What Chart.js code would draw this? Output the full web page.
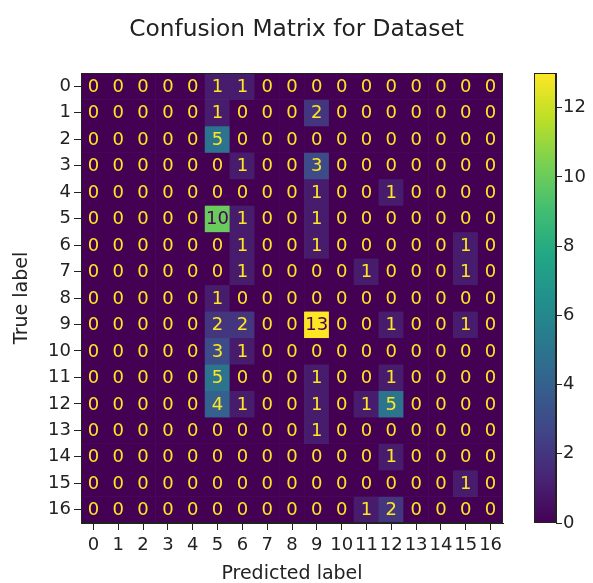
<!DOCTYPE html>
<html>
<head>
<meta charset="utf-8">
<script src="https://cdn.jsdelivr.net/npm/chart.js@4"></script>
<style>
  body { margin: 0; background: #fff; }
  #wrap { position: relative; width: 593px; height: 583px; overflow: hidden; }
  #title { position: absolute; left: 0; width: 593px; top: 16px; text-align: center;
           font: 23.3px "DejaVu Sans", sans-serif; color: #222; line-height: 24px; }
  canvas { position: absolute; top: 0; }
</style>
</head>
<body>
<div id="wrap">
  <canvas id="cm" width="520" height="591" style="left:0"></canvas>
  <canvas id="cbar" width="73" height="591" style="left:520px"></canvas>
  <div id="title">Confusion Matrix for Dataset</div>
</div>
<script>
const predLabels = ['0','1','2','3','4','5','6','7','8','9','10','11','12','13','14','15','16'];
const trueLabels = ['0','1','2','3','4','5','6','7','8','9','10','11','12','13','14','15','16'];

// rows = true label, columns = predicted label
const counts = [
    [0,0,0,0,0,1,1,0,0,0,0,0,0,0,0,0,0],
    [0,0,0,0,0,1,0,0,0,2,0,0,0,0,0,0,0],
    [0,0,0,0,0,5,0,0,0,0,0,0,0,0,0,0,0],
    [0,0,0,0,0,0,1,0,0,3,0,0,0,0,0,0,0],
    [0,0,0,0,0,0,0,0,0,1,0,0,1,0,0,0,0],
    [0,0,0,0,0,10,1,0,0,1,0,0,0,0,0,0,0],
    [0,0,0,0,0,0,1,0,0,1,0,0,0,0,0,1,0],
    [0,0,0,0,0,0,1,0,0,0,0,1,0,0,0,1,0],
    [0,0,0,0,0,1,0,0,0,0,0,0,0,0,0,0,0],
    [0,0,0,0,0,2,2,0,0,13,0,0,1,0,0,1,0],
    [0,0,0,0,0,3,1,0,0,0,0,0,0,0,0,0,0],
    [0,0,0,0,0,5,0,0,0,1,0,0,1,0,0,0,0],
    [0,0,0,0,0,4,1,0,0,1,0,1,5,0,0,0,0],
    [0,0,0,0,0,0,0,0,0,1,0,0,0,0,0,0,0],
    [0,0,0,0,0,0,0,0,0,0,0,0,1,0,0,0,0],
    [0,0,0,0,0,0,0,0,0,0,0,0,0,0,0,1,0],
    [0,0,0,0,0,0,0,0,0,0,0,1,2,0,0,0,0]
];

const cbarMax = 13;
const cbarTicks = [0, 2, 4, 6, 8, 10, 12];

const viridisStops = ['#440154','#482475','#414487','#355f8d','#2a788e','#21918c','#22a884','#44bf70','#7ad151','#bddf26','#fde725'];

function hexRgb(h) {
    return [parseInt(h.slice(1,3),16), parseInt(h.slice(3,5),16), parseInt(h.slice(5,7),16)];
}

function viridis(t) {
    t = Math.min(1, Math.max(0, t));
    const p = t * (viridisStops.length - 1);
    const i = Math.min(Math.floor(p), viridisStops.length - 2);
    const f = p - i;
    const a = hexRgb(viridisStops[i]), b = hexRgb(viridisStops[i + 1]);
    const c = a.map((v, k) => Math.round(v + (b[k] - v) * f));
    return `rgb(${c[0]},${c[1]},${c[2]})`;
}

const FONT = '"DejaVu Sans", sans-serif';
const tickFont = { family: FONT, size: 18 };
const labelFont = { family: FONT, size: 19 };

// frame around the plot area (top + right spines too)
const framePlugin = {
    id: 'frame',
    afterDraw(chart) {
        const { ctx, chartArea: a } = chart;
        ctx.save();
        ctx.strokeStyle = '#222';
        ctx.lineWidth = 1;
        ctx.strokeRect(a.left + 0.5, a.top + 0.5, a.right - a.left - 1, a.bottom - a.top - 1);
        ctx.restore();
    }
};

const annotatePlugin = {
    id: 'annotate',
    afterDatasetsDraw(chart) {
        const { ctx, scales } = chart;
        const thresh = cbarMax / 2;
        ctx.save();
        ctx.font = `18px ${FONT}`;
        ctx.textAlign = 'center';
        ctx.textBaseline = 'middle';
        counts.forEach((row, i) => {
            row.forEach((v, j) => {
                ctx.fillStyle = v > thresh ? viridisStops[0] : viridisStops[10];
                ctx.fillText(String(v), scales.x.getPixelForValue(j), scales.y.getPixelForValue(i + 0.5) + 1);
            });
        });
        ctx.restore();
    }
};

const datasets = counts.map((row, i) => ({
    label: trueLabels[i],
    data: row.map(() => [i, i + 1]),
    backgroundColor: row.map(v => viridis(v / cbarMax)),
    borderWidth: 0,
    barPercentage: 1,
    categoryPercentage: 1,
    grouped: false
}));

new Chart(document.getElementById('cm'), {
    type: 'bar',
    data: { labels: predLabels, datasets: datasets },
    options: {
        responsive: false,
        animation: false,
        layout: { padding: { top: 73, right: 17, left: 11, bottom: 0 } },
        plugins: { legend: { display: false }, tooltip: { enabled: false } },
        scales: {
            x: {
                offset: true,
                grid: { drawOnChartArea: false, offset: false, tickLength: 7, tickColor: '#222' },
                border: { display: true, color: '#222' },
                ticks: { font: tickFont, color: '#222', padding: 5, maxRotation: 0, autoSkip: false },
                title: { display: true, text: 'Predicted label', font: labelFont, color: '#222', padding: { top: 5, bottom: 6 } },
                afterFit: (s) => { s.height = 68; }
            },
            y: {
                type: 'linear',
                min: 0,
                max: trueLabels.length,
                reverse: true,
                afterBuildTicks: (s) => { s.ticks = trueLabels.map((_, i) => ({ value: i + 0.5 })); },
                grid: { drawOnChartArea: false, tickLength: 7, tickColor: '#222' },
                border: { display: true, color: '#222' },
                ticks: { font: tickFont, color: '#222', padding: 3, callback: (v, idx) => trueLabels[idx] },
                title: { display: true, text: 'True label', font: labelFont, color: '#222', padding: 0 },
                afterFit: (s) => { s.width = 70; }
            }
        }
    },
    plugins: [annotatePlugin, framePlugin]
});

// colour bar
new Chart(document.getElementById('cbar'), {
    type: 'bar',
    data: {
        labels: ['scale'],
        datasets: [{
            data: [[0, cbarMax]],
            backgroundColor: (c) => {
                const ch = c.chart;
                if (!ch.chartArea) return viridisStops[0];
                const y = ch.scales.y;
                const g = ch.ctx.createLinearGradient(0, y.getPixelForValue(0), 0, y.getPixelForValue(cbarMax));
                viridisStops.forEach((col, k) => g.addColorStop(k / (viridisStops.length - 1), col));
                return g;
            },
            borderWidth: 0,
            barPercentage: 1,
            categoryPercentage: 1
        }]
    },
    options: {
        responsive: false,
        animation: false,
        layout: { padding: { top: 73, left: 14, bottom: 68, right: 0 } },
        plugins: { legend: { display: false }, tooltip: { enabled: false } },
        scales: {
            x: { display: false },
            y: {
                position: 'right',
                min: 0,
                max: cbarMax,
                afterBuildTicks: (s) => { s.ticks = cbarTicks.map(v => ({ value: v })); },
                grid: { drawOnChartArea: false, tickLength: 6, tickColor: '#222' },
                border: { display: true, color: '#222' },
                ticks: { font: tickFont, color: '#222', padding: 1 },
                afterFit: (s) => { s.width = 37; }
            }
        }
    },
    plugins: [framePlugin]
});
</script>
</body>
</html>
